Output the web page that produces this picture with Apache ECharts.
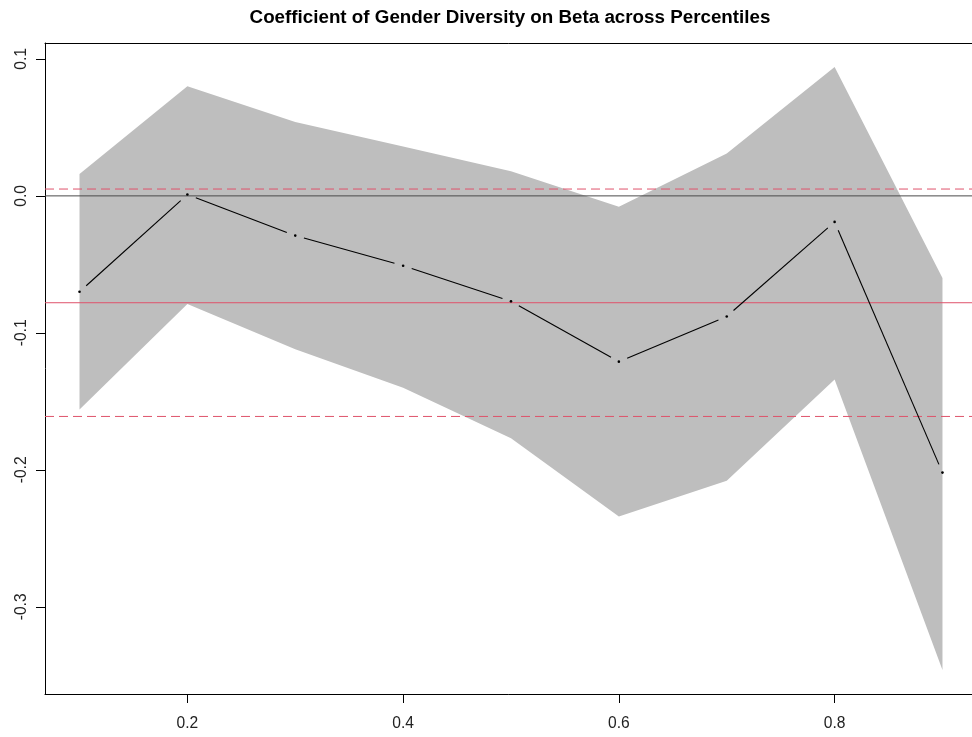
<!DOCTYPE html>
<html>
<head>
<meta charset="utf-8">
<script src="https://cdn.jsdelivr.net/npm/echarts@6/dist/echarts.min.js"></script>
<style>
  html, body { margin: 0; padding: 0; background: #fff; }
  #chart { width: 972px; height: 737px; }
</style>
</head>
<body>
<div id="chart"></div>
<script>
// Quantile-regression coefficient of gender diversity on beta, by percentile
const percentiles = [0.1, 0.2, 0.3, 0.4, 0.5, 0.6, 0.7, 0.8, 0.9];
const coefficient = [-0.070, 0.001, -0.029, -0.051, -0.077, -0.121, -0.088, -0.019, -0.202];
const upperBound  = [0.016, 0.080, 0.054, 0.036, 0.018, -0.008, 0.031, 0.094, -0.060];
const lowerBound  = [-0.156, -0.079, -0.112, -0.140, -0.177, -0.234, -0.208, -0.134, -0.346];

// OLS estimate and its confidence interval
const olsEstimate = -0.078;
const olsUpper = 0.005;
const olsLower = -0.161;

const xTicks = [0.2, 0.4, 0.6, 0.8];
const yTicks = [-0.3, -0.2, -0.1, 0.0, 0.1];

const titleText = 'Coefficient of Gender Diversity on Beta across Percentiles';

// axis ranges padded by 4% on each side
function paddedRange(lo, hi) {
  const pad = (hi - lo) * 0.04;
  return [lo - pad, hi + pad];
}
const xRange = paddedRange(Math.min(...percentiles), Math.max(...percentiles));
const yRange = paddedRange(Math.min(...lowerBound), Math.max(...upperBound));

// horizontal reference lines: zero, OLS estimate, OLS interval bounds
const refLines = [
  { name: 'zero', value: 0, color: '#4a4a4a', type: 'solid' },
  { name: 'ols', value: olsEstimate, color: '#DF536B', type: 'solid' },
  { name: 'ols upper', value: olsUpper, color: '#DF536B', type: [9, 5] },
  { name: 'ols lower', value: olsLower, color: '#DF536B', type: [9, 5] }
];

const chart = echarts.init(document.getElementById('chart'), null, { renderer: 'canvas' });

const tickFont = { fontFamily: '"Liberation Sans", Arial, sans-serif', fontSize: 15.6, color: '#222' };

// confidence band polygon drawn once from both bound arrays
function renderBand(params, api) {
  if (params.dataIndex !== 0) return null;
  const pts = [];
  for (let i = 0; i < percentiles.length; i++) pts.push(api.coord([percentiles[i], upperBound[i]]));
  for (let i = percentiles.length - 1; i >= 0; i--) pts.push(api.coord([percentiles[i], lowerBound[i]]));
  return {
    type: 'polygon',
    shape: { points: pts },
    style: { fill: '#BEBEBE', stroke: null }
  };
}

// points joined by segments that stop short of each point
const GAP = 9;
function renderPointLine(params, api) {
  const i = params.dataIndex;
  const p = api.coord([percentiles[i], coefficient[i]]);
  const children = [{
    type: 'circle',
    shape: { cx: p[0], cy: p[1], r: 1.3 },
    style: { fill: '#000' }
  }];
  if (i < percentiles.length - 1) {
    const q = api.coord([percentiles[i + 1], coefficient[i + 1]]);
    const dx = q[0] - p[0], dy = q[1] - p[1];
    const len = Math.sqrt(dx * dx + dy * dy);
    const ux = dx / len, uy = dy / len;
    children.push({
      type: 'line',
      shape: { x1: p[0] + ux * GAP, y1: p[1] + uy * GAP, x2: q[0] - ux * GAP, y2: q[1] - uy * GAP },
      style: { stroke: '#000', lineWidth: 1.1 }
    });
  }
  return { type: 'group', children: children };
}

const refSeries = refLines.map((l, k) => ({
  name: l.name,
  type: 'line',
  data: [[xRange[0], l.value], [xRange[1], l.value]],
  showSymbol: false,
  symbol: 'none',
  silent: true,
  z: 2 + k * 0.01,
  lineStyle: { color: l.color, width: 1, type: l.type },
  itemStyle: { color: l.color },
  emphasis: { disabled: true }
}));

const option = {
  animation: false,
  backgroundColor: '#fff',
  graphic: [{
    type: 'text',
    x: 510,
    y: 18,
    style: {
      text: titleText,
      align: 'center',
      verticalAlign: 'middle',
      font: 'bold 18.8px "Liberation Sans", Arial, sans-serif',
      fill: '#000'
    }
  }],
  grid: { left: 45, top: 43, right: -5, bottom: 43, containLabel: false, outerBoundsMode: 'none' },
  xAxis: [{
    type: 'value',
    min: xRange[0],
    max: xRange[1],
    splitLine: { show: false },
    axisLine: { show: true, onZero: false, lineStyle: { color: '#000', width: 1 } },
    axisTick: { show: true, length: 9, customValues: xTicks, lineStyle: { color: '#000' } },
    axisLabel: {
      show: true, margin: 22, customValues: xTicks,
      formatter: v => v.toFixed(1), ...tickFont
    }
  }, {
    type: 'value',
    position: 'top',
    min: xRange[0],
    max: xRange[1],
    splitLine: { show: false },
    axisLine: { show: true, onZero: false, lineStyle: { color: '#000', width: 1 } },
    axisTick: { show: false },
    axisLabel: { show: false }
  }],
  yAxis: {
    type: 'value',
    min: yRange[0],
    max: yRange[1],
    splitLine: { show: false },
    axisLine: { show: true, onZero: false, lineStyle: { color: '#000', width: 1 } },
    axisTick: { show: true, length: 9, customValues: yTicks, lineStyle: { color: '#000' } },
    axisLabel: {
      show: true, margin: 15, rotate: 90, customValues: yTicks,
      formatter: v => v.toFixed(1), ...tickFont
    }
  },
  series: [
    {
      name: 'band',
      type: 'custom',
      renderItem: renderBand,
      data: percentiles.map((x, i) => [x, upperBound[i], lowerBound[i]]),
      encode: { x: 0, y: [1, 2] },
      silent: true,
      z: 1
    },
    ...refSeries,
    {
      name: 'coefficient',
      type: 'custom',
      renderItem: renderPointLine,
      data: percentiles.map((x, i) => [x, coefficient[i]]),
      encode: { x: 0, y: 1 },
      silent: true,
      z: 3
    }
  ]
};

chart.setOption(option);
</script>
</body>
</html>
